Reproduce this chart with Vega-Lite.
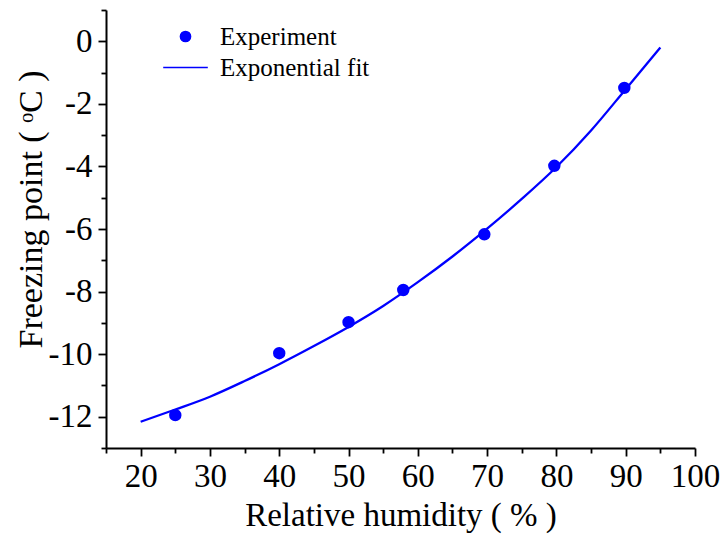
{
  "$schema": "https://vega.github.io/schema/vega-lite/v6.json",
  "width": 589,
  "height": 438,
  "autosize": "none",
  "padding": {"left": 106, "top": 10, "right": 26, "bottom": 86},
  "background": "white",
  "config": {
    "view": {"stroke": null},
    "font": "Liberation Serif"
  },
  "datasets": {
    "exp": [
      {"rh": 25, "fp": -11.95, "series": "Experiment"},
      {"rh": 40, "fp": -9.97, "series": "Experiment"},
      {"rh": 50, "fp": -8.98, "series": "Experiment"},
      {"rh": 57.9, "fp": -7.95, "series": "Experiment"},
      {"rh": 69.6, "fp": -6.17, "series": "Experiment"},
      {"rh": 79.7, "fp": -3.98, "series": "Experiment"},
      {"rh": 89.8, "fp": -1.49, "series": "Experiment"}
    ],
    "fit": [
      {"rh": 20, "fp": -12.16},
      {"rh": 25, "fp": -11.77},
      {"rh": 30, "fp": -11.36},
      {"rh": 35, "fp": -10.86},
      {"rh": 40, "fp": -10.32},
      {"rh": 45, "fp": -9.74},
      {"rh": 50, "fp": -9.13},
      {"rh": 55, "fp": -8.46},
      {"rh": 60, "fp": -7.7},
      {"rh": 65, "fp": -6.88},
      {"rh": 70, "fp": -5.99},
      {"rh": 75, "fp": -5.04},
      {"rh": 80, "fp": -4.02},
      {"rh": 85, "fp": -2.85},
      {"rh": 90, "fp": -1.53},
      {"rh": 95, "fp": -0.2}
    ]
  },
  "encoding": {
    "x": {
      "field": "rh",
      "type": "quantitative",
      "scale": {"domain": [15, 100], "nice": false, "zero": false},
      "axis": {
        "title": "Relative humidity ( % )",
        "values": [15, 20, 25, 30, 35, 40, 45, 50, 55, 60, 65, 70, 75, 80, 85, 90, 95, 100],
        "labelExpr": "datum.value % 10 === 0 ? datum.label : ''",
        "tickSize": {"condition": {"test": "datum.value % 10 === 0", "value": 8}, "value": 5},
        "grid": false,
        "labelFont": "Liberation Serif",
        "labelFontSize": 33,
        "labelColor": "black",
        "labelBaseline": "alphabetic",
        "labelPadding": 30,
        "labelFlush": false,
        "labelOverlap": false,
        "titleFont": "Liberation Serif",
        "titleFontSize": 33,
        "titleFontWeight": "normal",
        "titleColor": "black",
        "titleBaseline": "alphabetic",
        "titleY": 77,
        "domainColor": "black",
        "domainWidth": 2,
        "tickColor": "black",
        "tickWidth": 1.8
      }
    },
    "y": {
      "field": "fp",
      "type": "quantitative",
      "scale": {"domain": [-13, 1], "nice": false, "zero": false},
      "axis": {
        "title": "Freezing point ( ᵒC )",
        "values": [-13, -12, -11, -10, -9, -8, -7, -6, -5, -4, -3, -2, -1, 0, 1],
        "labelExpr": "datum.value % 2 === 0 ? '' + datum.value : ''",
        "tickSize": {"condition": {"test": "datum.value % 2 === 0", "value": 8}, "value": 5},
        "grid": false,
        "labelFont": "Liberation Serif",
        "labelFontSize": 33,
        "labelColor": "black",
        "labelPadding": 6,
        "labelFlush": false,
        "labelOverlap": false,
        "titleFont": "Liberation Serif",
        "titleFontSize": 34,
        "titleFontWeight": "normal",
        "titleColor": "black",
        "titleAngle": 270,
        "titleBaseline": "alphabetic",
        "titleAlign": "center",
        "titleX": -65,
        "titleY": 199,
        "domainColor": "black",
        "domainWidth": 2,
        "tickColor": "black",
        "tickWidth": 1.8
      }
    }
  },
  "layer": [
    {
      "data": {"name": "fit"},
      "mark": {"type": "line", "color": "#0000ff", "strokeWidth": 2.3, "interpolate": "monotone"}
    },
    {
      "data": {"name": "exp"},
      "mark": {"type": "point", "filled": true, "opacity": 1, "size": 1989, "stroke": "#0000ff", "strokeWidth": 2.2},
      "encoding": {
        "color": {
          "field": "series",
          "type": "nominal",
          "scale": {"domain": ["Experiment", "Exponential fit"], "range": ["#0000ff", "#0000ff"]},
          "legend": {
            "title": null,
            "orient": "none",
            "legendX": 56,
            "legendY": 11,
            "padding": 0,
            "rowPadding": 0,
            "clipHeight": 31,
            "symbolSize": 1989,
            "labelOffset": 11,
            "labelFont": "Liberation Serif",
            "labelFontSize": 25,
            "labelColor": "black",
            "labelLimit": 0,
            "encode": {"symbols": {"update": {"stroke": {"value": "#0000ff"}, "strokeWidth": {"value": 2.2}}}}
          }
        },
        "shape": {
          "field": "series",
          "type": "nominal",
          "scale": {
            "domain": ["Experiment", "Exponential fit"],
            "range": ["M-0.229,0A0.229,0.229,0,1,0,0.229,0A0.229,0.229,0,1,0,-0.229,0Z", "M-1,0L1,0"]
          },
          "legend": {
            "title": null,
            "orient": "none",
            "legendX": 56,
            "legendY": 11,
            "padding": 0,
            "rowPadding": 0,
            "clipHeight": 31,
            "symbolSize": 1989,
            "labelOffset": 11,
            "labelFont": "Liberation Serif",
            "labelFontSize": 25,
            "labelColor": "black",
            "labelLimit": 0,
            "encode": {"symbols": {"update": {"stroke": {"value": "#0000ff"}, "strokeWidth": {"value": 2.2}}}}
          }
        }
      }
    }
  ]
}
